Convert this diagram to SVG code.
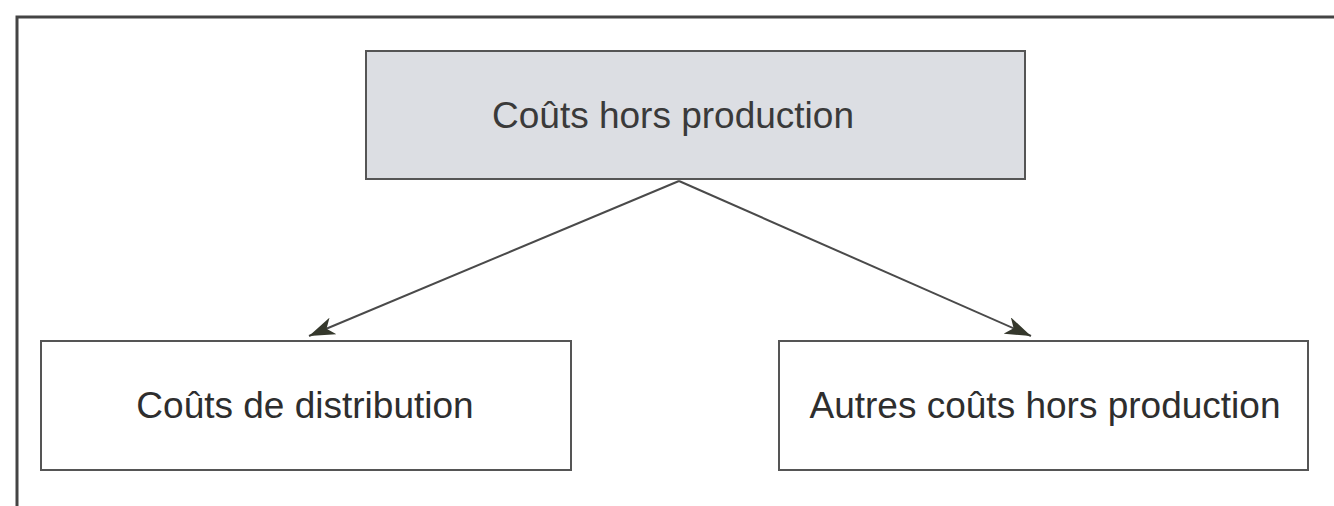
<svg xmlns="http://www.w3.org/2000/svg" width="1334" height="506" viewBox="0 0 1334 506">
<style>
.box{fill:#fff;stroke:#555;stroke-width:2}
.top{fill:#dcdee3}
.lbl{font-family:"Liberation Sans",Arial,sans-serif;font-size:37px;fill:#2e2e2e;text-anchor:middle}
.conn{stroke:#4a4a4a;stroke-width:2;fill:none}
</style>
<defs>
<marker id="ah" viewBox="0 0 26 18" refX="26" refY="9" markerWidth="26" markerHeight="18" markerUnits="userSpaceOnUse" orient="auto">
<path d="M0,0 L26,9 L0,18 L7,9 Z" fill="#35382c"/>
</marker>
</defs>
<rect width="1334" height="506" fill="#fff"/>
<path d="M17,506 L17,17 L1334,17" fill="none" stroke="#444" stroke-width="3"/>
<g id="connectors">
<line class="conn" x1="679" y1="181" x2="309" y2="336" marker-end="url(#ah)"/>
<line class="conn" x1="679" y1="181" x2="1031" y2="336" marker-end="url(#ah)"/>
</g>
<g id="n-top">
<rect class="box top" x="366" y="51" width="659" height="128"/>
<text class="lbl" x="673" y="128" style="fill:#3a3a3a">Coûts hors production</text>
</g>
<g id="n-distribution">
<rect class="box" x="41" y="341" width="530" height="129"/>
<text class="lbl" x="305" y="418">Coûts de distribution</text>
</g>
<g id="n-autres">
<rect class="box" x="779" y="341" width="529" height="129"/>
<text class="lbl" x="1045" y="418">Autres coûts hors production</text>
</g>
</svg>
